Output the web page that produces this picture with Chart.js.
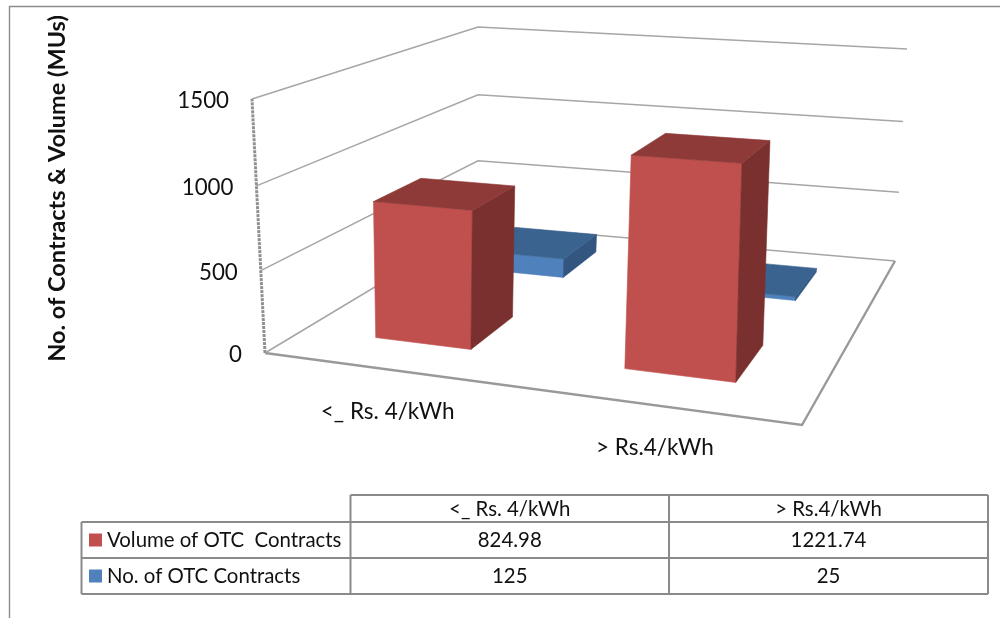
<!DOCTYPE html>
<html><head><meta charset="utf-8">
<style>html,body{margin:0;padding:0;background:#fff}#w{width:1000px;height:618px}</style>
<script src="https://cdn.jsdelivr.net/npm/chart.js@4/dist/chart.umd.min.js"></script>
</head><body><div id="w"><canvas id="c" width="1000" height="618"></canvas></div>
<script>
const categories = ['<_ Rs. 4/kWh', '> Rs.4/kWh'];
const volumeValues = [824.98, 1221.74];
const contractValues = [125, 25];
const volumeName = 'Volume of OTC  Contracts';
const contractName = 'No. of OTC Contracts';
const tickValues = [0, 500, 1000, 1500];
const yTitle = 'No. of Contracts & Volume (MUs)';

// perspective box (screen corners): floor and top, order front-left, back-left, back-right, front-right
const FLOOR = [[265,353],[478,225],[895,261],[802,425]];
const ROOF  = [[252,99],[478,27],[907,49],[806,135]];
const DEPTH = [[0.15,0.355],[0.645,0.86]];
const U_SHIFT = 0.006;
const GRID_BOW = 0.04;
const FACE = [
  {front:'#C0504D', top:'#8E3A38', side:'#7A302E'},
  {front:'#4F81BD', top:'#3B638F', side:'#335680'}
];
const FONT = 'Lato, Carlito, sans-serif';

function homography(q){
  const [[x0,y0],[x3,y3],[x2,y2],[x1,y1]] = q; // (0,0),(0,1),(1,1),(1,0) in (u,v)
  const dx1=x1-x2,dx2=x3-x2,sx=x0-x1+x2-x3,dy1=y1-y2,dy2=y3-y2,sy=y0-y1+y2-y3;
  const den=dx1*dy2-dx2*dy1;
  const g=(sx*dy2-dx2*sy)/den,h=(dx1*sy-sx*dy1)/den;
  const a=x1-x0+g*x1,b=x3-x0+h*x3,c=x0,d=y1-y0+g*y1,e=y3-y0+h*y3,f=y0;
  return (u,v)=>{const w=g*u+h*v+1;return [(a*u+b*v+c)/w,(d*u+e*v+f)/w];};
}
const H0=homography(FLOOR),H1=homography(ROOF);
function project(u,v,t){const p=H0(u,v),q=H1(u,v);return [p[0]+(q[0]-p[0])*t,p[1]+(q[1]-p[1])*t];}

function poly(ctx,pts,fill){
  ctx.beginPath();pts.forEach((p,i)=>i?ctx.lineTo(p[0],p[1]):ctx.moveTo(p[0],p[1]));ctx.closePath();
  ctx.fillStyle=fill;ctx.fill();ctx.strokeStyle=fill;ctx.lineWidth=0.6;ctx.stroke();
}
function line(ctx,pts,color,width,dash){
  ctx.save();ctx.beginPath();pts.forEach((p,i)=>i?ctx.lineTo(p[0],p[1]):ctx.moveTo(p[0],p[1]));
  ctx.strokeStyle=color;ctx.lineWidth=width;ctx.setLineDash(dash||[]);ctx.stroke();ctx.restore();
}
function text(ctx,s,x,y,size,align,weight){
  ctx.font=(weight||'normal')+' '+size+'px '+FONT;ctx.fillStyle='#111';ctx.textAlign=align;ctx.textBaseline='middle';ctx.fillText(s,x,y);
}

const scene={
  id:'scene',
  beforeDatasetsDraw(chart){
    const ctx=chart.ctx,a=chart.chartArea,yS=chart.scales.y,xS=chart.scales.x;
    const W=a.right-a.left,Hh=a.bottom-a.top;
    const frac=v=>(a.bottom-yS.getPixelForValue(v))/Hh;
    ctx.save();
    // frame
    line(ctx,[[1000,6.5],[9.5,6.5],[9.5,618]],'#8c8c8c',1.4);
    // y title
    ctx.save();ctx.translate(57,188.5);ctx.rotate(-Math.PI/2);text(ctx,yTitle,0,0,23.5,'center','bold');ctx.restore();
    // walls and ticks
    line(ctx,[project(0,0,0),project(0,0,1)],'#909090',3,[3,1]);
    tickValues.forEach(v=>{
      const f=frac(v),t=f-GRID_BOW*f*(1-f);
      if(v>0) line(ctx,[project(0,0,t),project(0,1,t),project(1,1,t)],'#a6a6a6',1.5);
      const p=project(0,0,t);
      text(ctx,String(v),p[0]-23,p[1]+2,22.3,'right');
    });
    // floor
    line(ctx,[project(0,0,0),project(0,1,0),project(1,1,0)],'#a6a6a6',1.6);
    line(ctx,[project(0,0,0),project(1,0,0),project(1,1,0)],'#999999',2.4);
    // bars, back to front
    [1,0].forEach(ds=>{
      const meta=chart.getDatasetMeta(ds),c=FACE[ds],[v0,v1]=DEPTH[ds];
      meta.data.forEach(el=>{
        const u0=(el.x-el.width/2-a.left)/W+U_SHIFT,u1=(el.x+el.width/2-a.left)/W+U_SHIFT;
        const t=(el.base-el.y)/Hh;
        poly(ctx,[project(u0,v0,0),project(u1,v0,0),project(u1,v0,t),project(u0,v0,t)],c.front);
        poly(ctx,[project(u1,v0,0),project(u1,v1,0),project(u1,v1,t),project(u1,v0,t)],c.side);
        poly(ctx,[project(u0,v0,t),project(u1,v0,t),project(u1,v1,t),project(u0,v1,t)],c.top);
      });
    });
    // category labels
    categories.forEach((s,i)=>{
      const u=(xS.getPixelForTick(i)-a.left)/W,p=project(u,0,0);
      text(ctx,s,p[0]+4,p[1]+43,22.5,'center');
    });
    // data table
    const X=[81.5,350.5,669,988],Y=[495,522,558,594],col='#8a8a8a';
    line(ctx,[[X[1],Y[0]],[X[3],Y[0]]],col,2);
    [1,2,3].forEach(r=>line(ctx,[[X[0],Y[r]],[X[3],Y[r]]],col,2));
    line(ctx,[[X[0],Y[1]],[X[0],Y[3]]],col,2);
    [1,2,3].forEach(k=>line(ctx,[[X[k],Y[0]],[X[k],Y[3]]],col,2));
    categories.forEach((s,i)=>text(ctx,s,(X[i+1]+X[i+2])/2,Y[0]+14,20.4,'center'));
    const rows=[[volumeName,FACE[0].front,volumeValues],[contractName,FACE[1].front,contractValues]];
    rows.forEach((r,k)=>{
      const cy=(Y[k+1]+Y[k+2])/2;
      ctx.fillStyle=r[1];ctx.fillRect(89,cy-6.5,13,13);
      text(ctx,r[0],107,cy,20.4,'left');
      r[2].forEach((v,i)=>text(ctx,String(v),(X[i+1]+X[i+2])/2,cy,20.4,'center'));
    });
    ctx.restore();
    return false;
  }
};

new Chart(document.getElementById('c'),{
  type:'bar',
  data:{labels:categories,datasets:[
    {label:volumeName,data:volumeValues,backgroundColor:FACE[0].front},
    {label:contractName,data:contractValues,backgroundColor:FACE[1].front}
  ]},
  options:{
    responsive:false,animation:false,
    layout:{padding:{left:252,right:93,top:99,bottom:265}},
    plugins:{legend:{display:false},tooltip:{enabled:false}},
    datasets:{bar:{grouped:false,categoryPercentage:1,barPercentage:0.40}},
    scales:{
      x:{display:false,type:'category'},
      y:{display:false,type:'linear',min:0,max:1500}
    }
  },
  plugins:[scene]
});
</script></body></html>
